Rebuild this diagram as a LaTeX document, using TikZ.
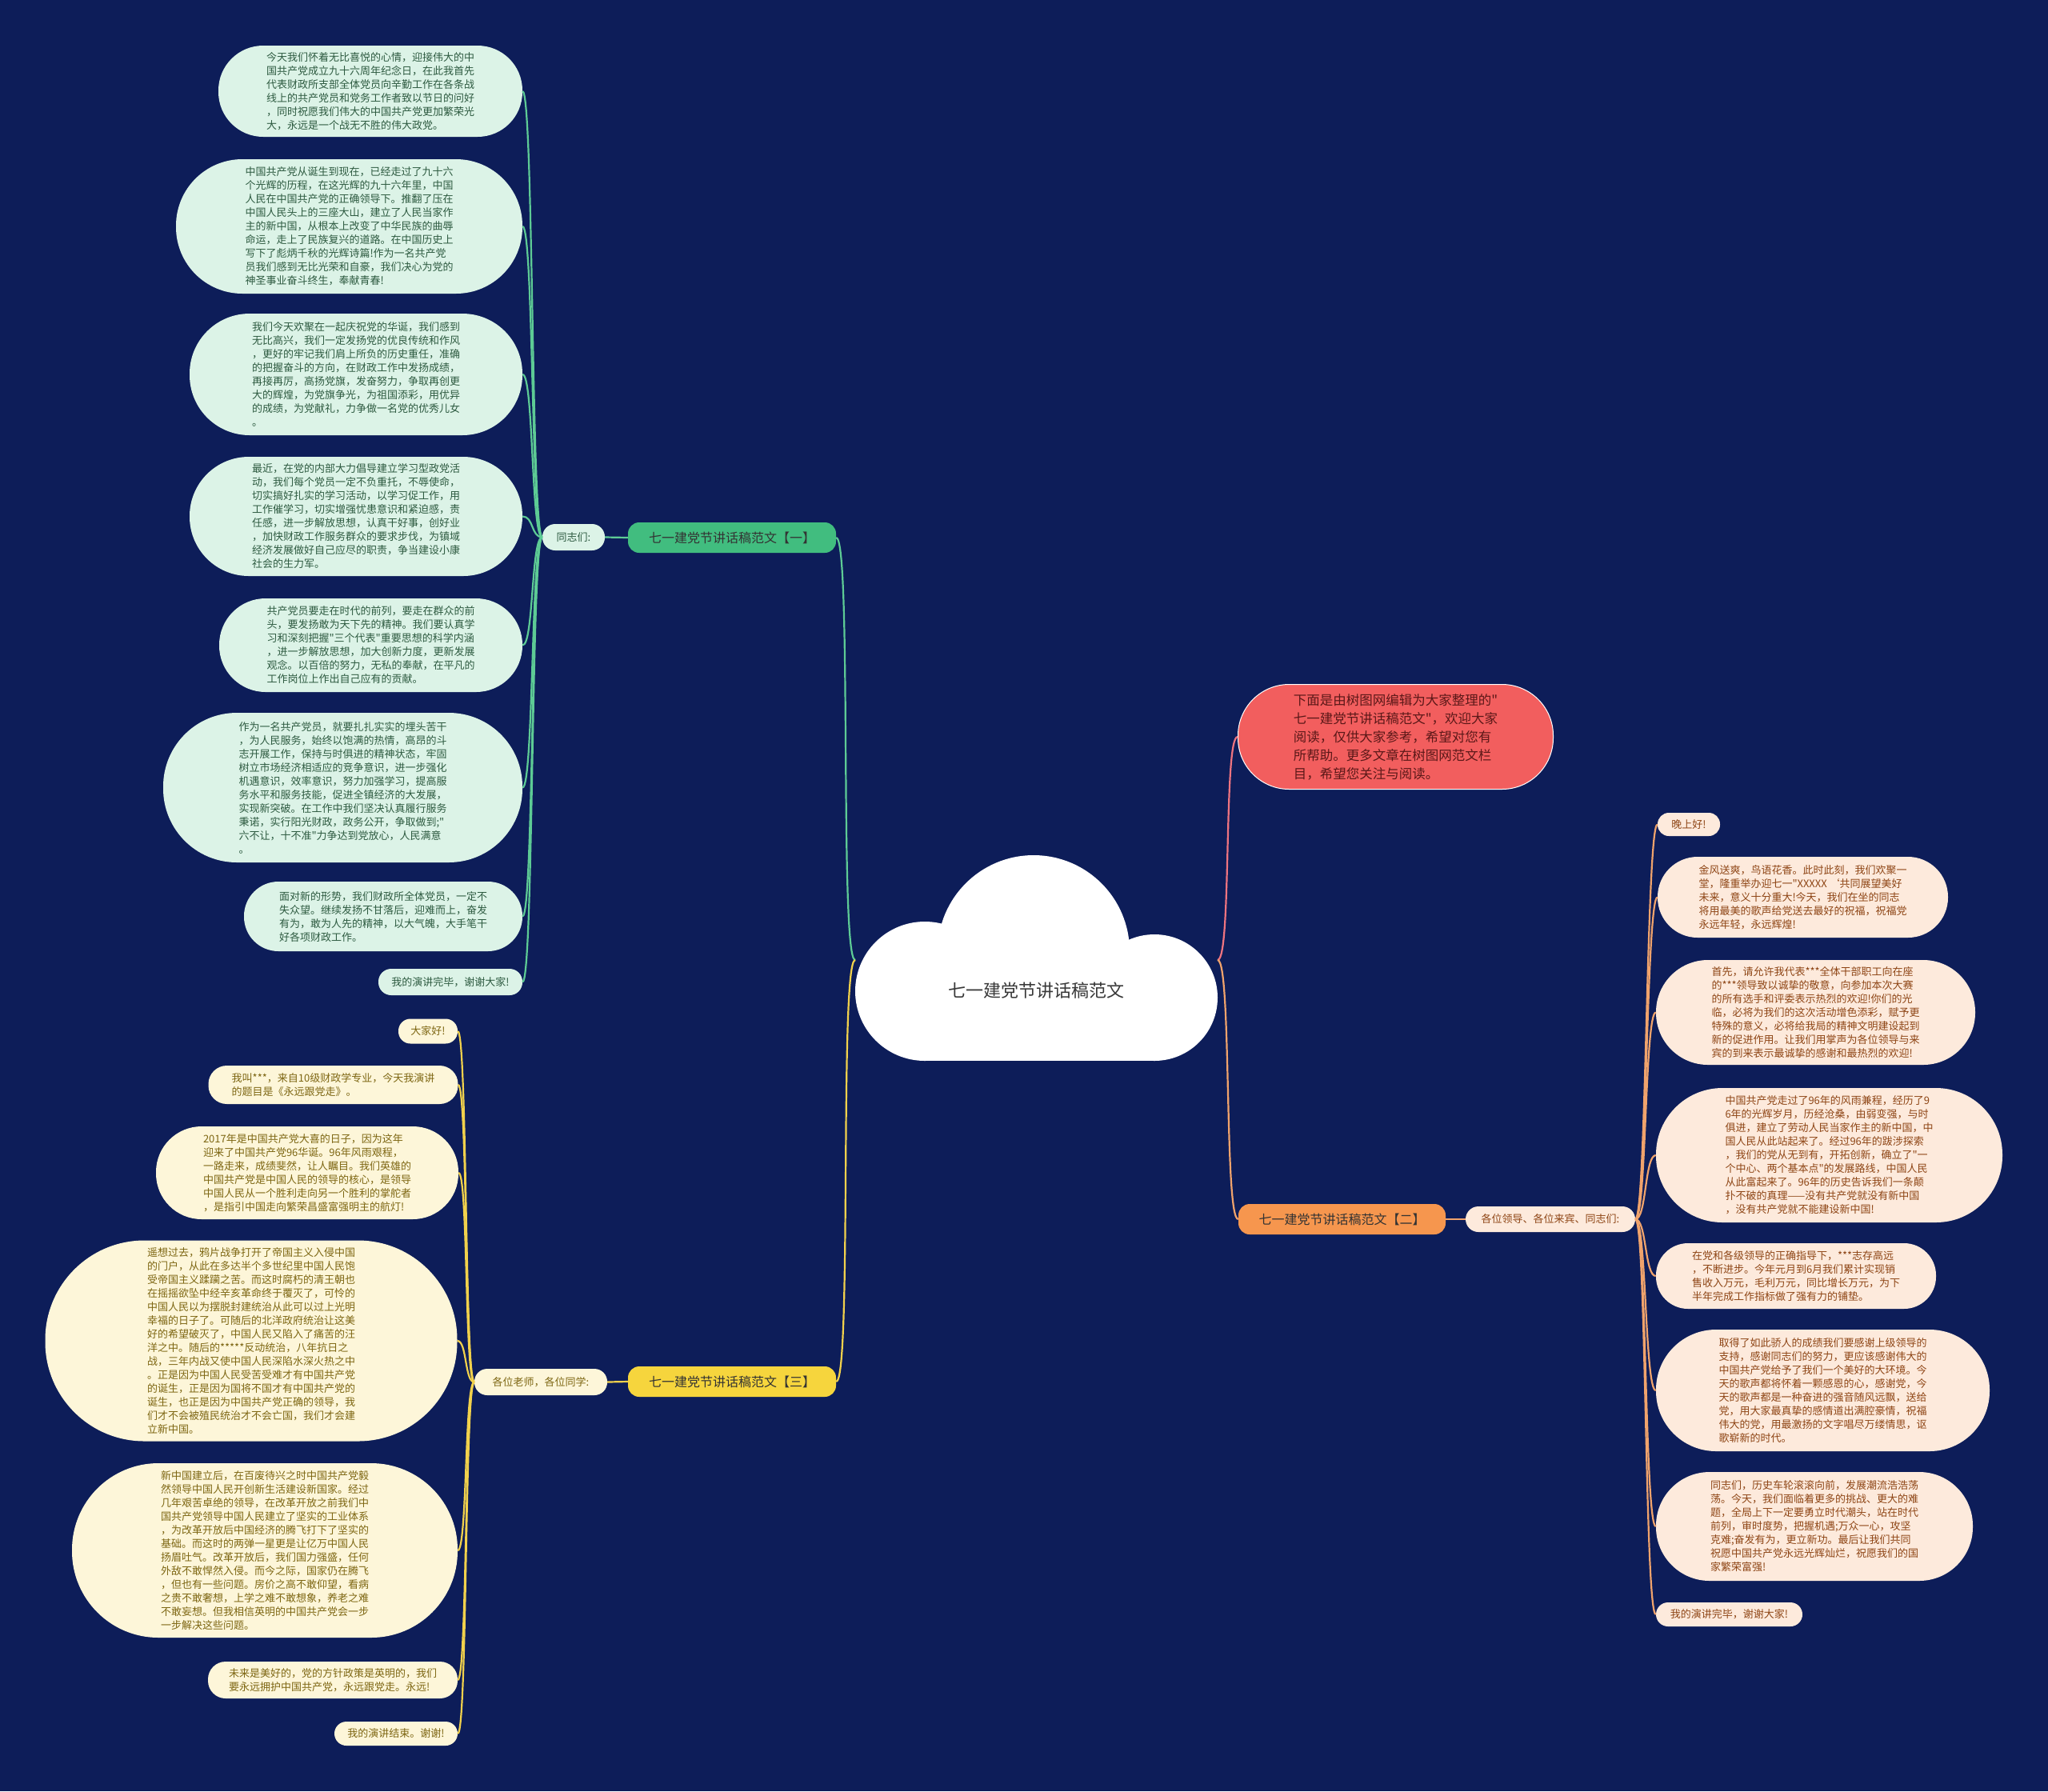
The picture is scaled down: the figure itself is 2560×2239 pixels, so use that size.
\documentclass[tikz,border=0pt]{standalone}
\usepackage{fontspec}
\newfontfamily\cjk{Noto Sans CJK SC}
\definecolor{bg}{HTML}{0D1D59}
\definecolor{gfill}{HTML}{DCF3E7}
\definecolor{gtext}{HTML}{2D5A40}
\definecolor{gline}{HTML}{5DCB95}
\definecolor{glab}{HTML}{41BD7F}
\definecolor{ofill}{HTML}{FDEADC}
\definecolor{otext}{HTML}{8E4515}
\definecolor{oline}{HTML}{F0A36C}
\definecolor{olab}{HTML}{F6964E}
\definecolor{yfill}{HTML}{FDF6D9}
\definecolor{ytext}{HTML}{7D6612}
\definecolor{yline}{HTML}{F1D14C}
\definecolor{ylab}{HTML}{F6D53D}
\definecolor{rfill}{HTML}{F25E5E}
\definecolor{rtext}{HTML}{5B1818}
\definecolor{rline}{HTML}{EE7480}
\tikzset{
  leaf/.style={rectangle, align=left, inner sep=0pt, font={\cjk\fontsize{13}{17}\selectfont}},
  gleaf/.style={leaf, fill=gfill, text=gtext},
  oleaf/.style={leaf, fill=ofill, text=otext},
  yleaf/.style={leaf, fill=yfill, text=ytext},
  lab/.style={rectangle, inner sep=0pt, font={\cjk\fontsize{16}{20}\selectfont}, minimum width=260pt, minimum height=38pt, rounded corners=14pt},
  conn/.style={line width=2.2pt},
  gconn/.style={conn, draw=gline},
  oconn/.style={conn, draw=oline},
  yconn/.style={conn, draw=yline},
  rconn/.style={conn, draw=rline}
}
\begin{document}
\begin{tikzpicture}[x=1pt,y=-1pt]
\fill[bg] (0,0) rectangle (2560,2239);
\useasboundingbox (0,0) rectangle (2560,2239);

% cloud
\fill[white] (1156,1239) circle[radius=87];
\fill[white] (1443,1247) circle[radius=79];
\fill[white] (1292,1189) circle[radius=120];
\fill[white] (1156,1200) rectangle (1443,1326);
\node[font={\cjk\fontsize{22}{26}\selectfont}, text=black!78] (center) at (1295,1238) {七一建党节讲话稿范文};
\coordinate (cL) at (1069,1200);
\coordinate (cR) at (1522,1200);

% intro (red)
\node[leaf, fill=rfill, text=rtext, draw=white, line width=1pt, font={\cjk\fontsize{16.5}{23}\selectfont}, minimum width=394pt, minimum height=131pt, rounded corners=64pt] (intro) at (1744.5,921) {下面是由树图网编辑为大家整理的"\\七一建党节讲话稿范文"，欢迎大家\\阅读，仅供大家参考，希望对您有\\所帮助。更多文章在树图网范文栏\\目，希望您关注与阅读。};

% ---------- green branch ----------
\node[lab, fill=glab, text=black!80] (gl) at (915,672) {七一建党节讲话稿范文【一】};
\node[gleaf, minimum width=78pt, minimum height=33pt, rounded corners=16pt] (gs) at (717,671.5) {同志们:};

\node[gleaf, minimum width=380pt, minimum height=114pt, rounded corners=56pt] (g1) at (463,114) {今天我们怀着无比喜悦的心情，迎接伟大的中\\国共产党成立九十六周年纪念日，在此我首先\\代表财政所支部全体党员向辛勤工作在各条战\\线上的共产党员和党务工作者致以节日的问好\\，同时祝愿我们伟大的中国共产党更加繁荣光\\大，永远是一个战无不胜的伟大政党。};
\node[gleaf, minimum width=433pt, minimum height=168pt, rounded corners=83pt] (g2) at (436.5,283) {中国共产党从诞生到现在，已经走过了九十六\\个光辉的历程，在这光辉的九十六年里，中国\\人民在中国共产党的正确领导下。推翻了压在\\中国人民头上的三座大山，建立了人民当家作\\主的新中国，从根本上改变了中华民族的曲辱\\命运，走上了民族复兴的道路。在中国历史上\\写下了彪炳千秋的光辉诗篇!作为一名共产党\\员我们感到无比光荣和自豪，我们决心为党的\\神圣事业奋斗终生，奉献青春!};
\node[gleaf, minimum width=416pt, minimum height=152pt, rounded corners=75pt] (g3) at (445,468) {我们今天欢聚在一起庆祝党的华诞，我们感到\\无比高兴，我们一定发扬党的优良传统和作风\\，更好的牢记我们肩上所负的历史重任，准确\\的把握奋斗的方向，在财政工作中发扬成绩，\\再接再厉，高扬党旗，发奋努力，争取再创更\\大的辉煌，为党旗争光，为祖国添彩，用优异\\的成绩，为党献礼，力争做一名党的优秀儿女\\。};
\node[gleaf, minimum width=416pt, minimum height=149pt, rounded corners=74pt] (g4) at (445,645.5) {最近，在党的内部大力倡导建立学习型政党活\\动，我们每个党员一定不负重托，不辱使命，\\切实搞好扎实的学习活动，以学习促工作，用\\工作催学习，切实增强忧患意识和紧迫感，责\\任感，进一步解放思想，认真干好事，创好业\\，加快财政工作服务群众的要求步伐，为镇域\\经济发展做好自己应尽的职责，争当建设小康\\社会的生力军。};
\node[gleaf, minimum width=379pt, minimum height=117pt, rounded corners=58pt] (g5) at (463.5,806.5) {共产党员要走在时代的前列，要走在群众的前\\头，要发扬敢为天下先的精神。我们要认真学\\习和深刻把握"三个代表"重要思想的科学内涵\\，进一步解放思想，加大创新力度，更新发展\\观念。以百倍的努力，无私的奉献，在平凡的\\工作岗位上作出自己应有的贡献。};
\node[gleaf, minimum width=449pt, minimum height=187pt, rounded corners=92pt] (g6) at (428.5,984.5) {作为一名共产党员，就要扎扎实实的埋头苦干\\，为人民服务，始终以饱满的热情，高昂的斗\\志开展工作，保持与时俱进的精神状态，牢固\\树立市场经济相适应的竞争意识，进一步强化\\机遇意识，效率意识，努力加强学习，提高服\\务水平和服务技能，促进全镇经济的大发展，\\实现新突破。在工作中我们坚决认真履行服务\\秉诺，实行阳光财政，政务公开，争取做到;"\\六不让，十不准"力争达到党放心，人民满意\\。};
\node[gleaf, minimum width=348pt, minimum height=87pt, rounded corners=43pt] (g7) at (479,1145.5) {面对新的形势，我们财政所全体党员，一定不\\失众望。继续发扬不甘落后，迎难而上，奋发\\有为，敢为人先的精神，以大气魄，大手笔干\\好各项财政工作。};
\node[gleaf, minimum width=180pt, minimum height=33pt, rounded corners=16pt] (g8) at (563,1227.5) {我的演讲完毕，谢谢大家!};

\draw[gconn] (cL) .. controls +(-20,0) and +(20,0) .. (gl.east);
\draw[gconn] (gl.west) -- (gs.east);
\draw[gconn] (gs.west) .. controls +(-14,0) and +(14,0) .. (g1.east);
\draw[gconn] (gs.west) .. controls +(-14,0) and +(14,0) .. (g2.east);
\draw[gconn] (gs.west) .. controls +(-14,0) and +(14,0) .. (g3.east);
\draw[gconn] (gs.west) .. controls +(-14,0) and +(14,0) .. (g4.east);
\draw[gconn] (gs.west) .. controls +(-14,0) and +(14,0) .. (g5.east);
\draw[gconn] (gs.west) .. controls +(-14,0) and +(14,0) .. (g6.east);
\draw[gconn] (gs.west) .. controls +(-14,0) and +(14,0) .. (g7.east);
\draw[gconn] (gs.west) .. controls +(-14,0) and +(14,0) .. (g8.east);

% ---------- orange branch ----------
\node[lab, fill=olab, text=black!80, minimum width=259pt] (ol) at (1677.5,1524) {七一建党节讲话稿范文【二】};
\node[oleaf, minimum width=212pt, minimum height=32pt, rounded corners=16pt] (os) at (1938,1524) {各位领导、各位来宾、同志们:};

\node[oleaf, minimum width=78pt, minimum height=29pt, rounded corners=14pt] (o1) at (2111,1030.5) {晚上好!};
\node[oleaf, minimum width=363pt, minimum height=101pt, rounded corners=50pt] (o2) at (2253.5,1121.5) {金风送爽，鸟语花香。此时此刻，我们欢聚一\\堂，隆重举办迎七一"XXXXX ‘共同展望美好\\未来，意义十分重大!今天，我们在坐的同志\\将用最美的歌声给党送去最好的祝福，祝福党\\永远年轻，永远辉煌!};
\node[oleaf, minimum width=399pt, minimum height=131pt, rounded corners=65pt] (o3) at (2269.5,1265.5) {首先，请允许我代表***全体干部职工向在座\\的***领导致以诚挚的敬意，向参加本次大赛\\的所有选手和评委表示热烈的欢迎!你们的光\\临，必将为我们的这次活动增色添彩，赋予更\\特殊的意义，必将给我局的精神文明建设起到\\新的促进作用。让我们用掌声为各位领导与来\\宾的到来表示最诚挚的感谢和最热烈的欢迎!};
\node[oleaf, minimum width=433pt, minimum height=168pt, rounded corners=83pt] (o4) at (2286.5,1444) {中国共产党走过了96年的风雨兼程，经历了9\\6年的光辉岁月，历经沧桑，由弱变强，与时\\俱进，建立了劳动人民当家作主的新中国，中\\国人民从此站起来了。经过96年的跋涉探索\\，我们的党从无到有，开拓创新，确立了"一\\个中心、两个基本点"的发展路线，中国人民\\从此富起来了。96年的历史告诉我们一条颠\\扑不破的真理——没有共产党就没有新中国\\，没有共产党就不能建设新中国!};
\node[oleaf, minimum width=350pt, minimum height=82pt, rounded corners=40pt] (o5) at (2245,1595) {在党和各级领导的正确指导下，***志存高远\\，不断进步。今年元月到6月我们累计实现销\\售收入万元，毛利万元，同比增长万元，为下\\半年完成工作指标做了强有力的铺垫。};
\node[oleaf, minimum width=417pt, minimum height=152pt, rounded corners=75pt] (o6) at (2278.5,1738) {取得了如此骄人的成绩我们要感谢上级领导的\\支持，感谢同志们的努力，更应该感谢伟大的\\中国共产党给予了我们一个美好的大环境。今\\天的歌声都将怀着一颗感恩的心，感谢党，今\\天的歌声都是一种奋进的强音随风远飘，送给\\党，用大家最真挚的感情道出满腔豪情，祝福\\伟大的党，用最激扬的文字唱尽万缕情思，讴\\歌崭新的时代。};
\node[oleaf, minimum width=396pt, minimum height=136pt, rounded corners=67pt] (o7) at (2268,1908) {同志们，历史车轮滚滚向前，发展潮流浩浩荡\\荡。今天，我们面临着更多的挑战、更大的难\\题，全局上下一定要勇立时代潮头，站在时代\\前列，审时度势，把握机遇;万众一心，攻坚\\克难;奋发有为，更立新功。最后让我们共同\\祝愿中国共产党永远光辉灿烂，祝愿我们的国\\家繁荣富强!};
\node[oleaf, minimum width=183pt, minimum height=30pt, rounded corners=15pt] (o8) at (2161.5,2018) {我的演讲完毕，谢谢大家!};

\draw[rconn] (cR) .. controls +(18,0) and +(-18,0) .. (intro.west);
\draw[oconn] (cR) .. controls +(18,0) and +(-18,0) .. (ol.west);
\draw[oconn] (ol.east) -- (os.west);
\draw[oconn] (os.east) .. controls +(14,0) and +(-14,0) .. (o1.west);
\draw[oconn] (os.east) .. controls +(14,0) and +(-14,0) .. (o2.west);
\draw[oconn] (os.east) .. controls +(14,0) and +(-14,0) .. (o3.west);
\draw[oconn] (os.east) .. controls +(14,0) and +(-14,0) .. (o4.west);
\draw[oconn] (os.east) .. controls +(14,0) and +(-14,0) .. (o5.west);
\draw[oconn] (os.east) .. controls +(14,0) and +(-14,0) .. (o6.west);
\draw[oconn] (os.east) .. controls +(14,0) and +(-14,0) .. (o7.west);
\draw[oconn] (os.east) .. controls +(14,0) and +(-14,0) .. (o8.west);

% ---------- yellow branch ----------
\node[lab, fill=ylab, text=black!80] (yl) at (915,1727) {七一建党节讲话稿范文【三】};
\node[yleaf, minimum width=166pt, minimum height=33pt, rounded corners=16pt] (ys) at (676,1727.5) {各位老师，各位同学:};

\node[yleaf, minimum width=74pt, minimum height=31pt, rounded corners=15pt] (y1) at (535,1289) {大家好!};
\node[yleaf, minimum width=312pt, minimum height=48pt, rounded corners=23pt] (y2) at (416.5,1356) {我叫***，来自10级财政学专业，今天我演讲\\的题目是《永远跟党走》。};
\node[yleaf, minimum width=378pt, minimum height=116pt, rounded corners=57pt] (y3) at (384,1466) {2017年是中国共产党大喜的日子，因为这年\\迎来了中国共产党96华诞。96年风雨艰程，\\一路走来，成绩斐然，让人瞩目。我们英雄的\\中国共产党是中国人民的领导的核心，是领导\\中国人民从一个胜利走向另一个胜利的掌舵者\\，是指引中国走向繁荣昌盛富强明主的航灯!};
\node[yleaf, minimum width=515pt, minimum height=251pt, rounded corners=124pt] (y4) at (314,1676) {遥想过去，鸦片战争打开了帝国主义入侵中国\\的门户，从此在多达半个多世纪里中国人民饱\\受帝国主义蹂躏之苦。而这时腐朽的清王朝也\\在摇摇欲坠中经辛亥革命终于覆灭了，可怜的\\中国人民以为摆脱封建统治从此可以过上光明\\幸福的日子了。可随后的北洋政府统治让这美\\好的希望破灭了，中国人民又陷入了痛苦的汪\\洋之中。随后的*****反动统治，八年抗日之\\战，三年内战又使中国人民深陷水深火热之中\\。正是因为中国人民受苦受难才有中国共产党\\的诞生，正是因为国将不国才有中国共产党的\\诞生，也正是因为中国共产党正确的领导，我\\们才不会被殖民统治才不会亡国，我们才会建\\立新中国。};
\node[yleaf, minimum width=482pt, minimum height=218pt, rounded corners=108pt] (y5) at (331,1938) {新中国建立后，在百废待兴之时中国共产党毅\\然领导中国人民开创新生活建设新国家。经过\\几年艰苦卓绝的领导，在改革开放之前我们中\\国共产党领导中国人民建立了坚实的工业体系\\，为改革开放后中国经济的腾飞打下了坚实的\\基础。而这时的两弹一星更是让亿万中国人民\\扬眉吐气。改革开放后，我们国力强盛，任何\\外敌不敢悍然入侵。而今之际，国家仍在腾飞\\，但也有一些问题。房价之高不敢仰望，看病\\之贵不敢奢想，上学之难不敢想象，养老之难\\不敢妄想。但我相信英明的中国共产党会一步\\一步解决这些问题。};
\node[yleaf, minimum width=312pt, minimum height=46pt, rounded corners=22pt] (y6) at (416,2100) {未来是美好的，党的方针政策是英明的，我们\\要永远拥护中国共产党，永远跟党走。永远!};
\node[yleaf, minimum width=154pt, minimum height=30pt, rounded corners=15pt] (y7) at (495,2167) {我的演讲结束。谢谢!};

\draw[yconn] (cL) .. controls +(-20,0) and +(20,0) .. (yl.east);
\draw[yconn] (yl.west) -- (ys.east);
\draw[yconn] (ys.west) .. controls +(-12,0) and +(12,0) .. (y1.east);
\draw[yconn] (ys.west) .. controls +(-12,0) and +(12,0) .. (y2.east);
\draw[yconn] (ys.west) .. controls +(-12,0) and +(12,0) .. (y3.east);
\draw[yconn] (ys.west) .. controls +(-12,0) and +(12,0) .. (y4.east);
\draw[yconn] (ys.west) .. controls +(-12,0) and +(12,0) .. (y5.east);
\draw[yconn] (ys.west) .. controls +(-12,0) and +(12,0) .. (y6.east);
\draw[yconn] (ys.west) .. controls +(-12,0) and +(12,0) .. (y7.east);
\end{tikzpicture}
\end{document}
